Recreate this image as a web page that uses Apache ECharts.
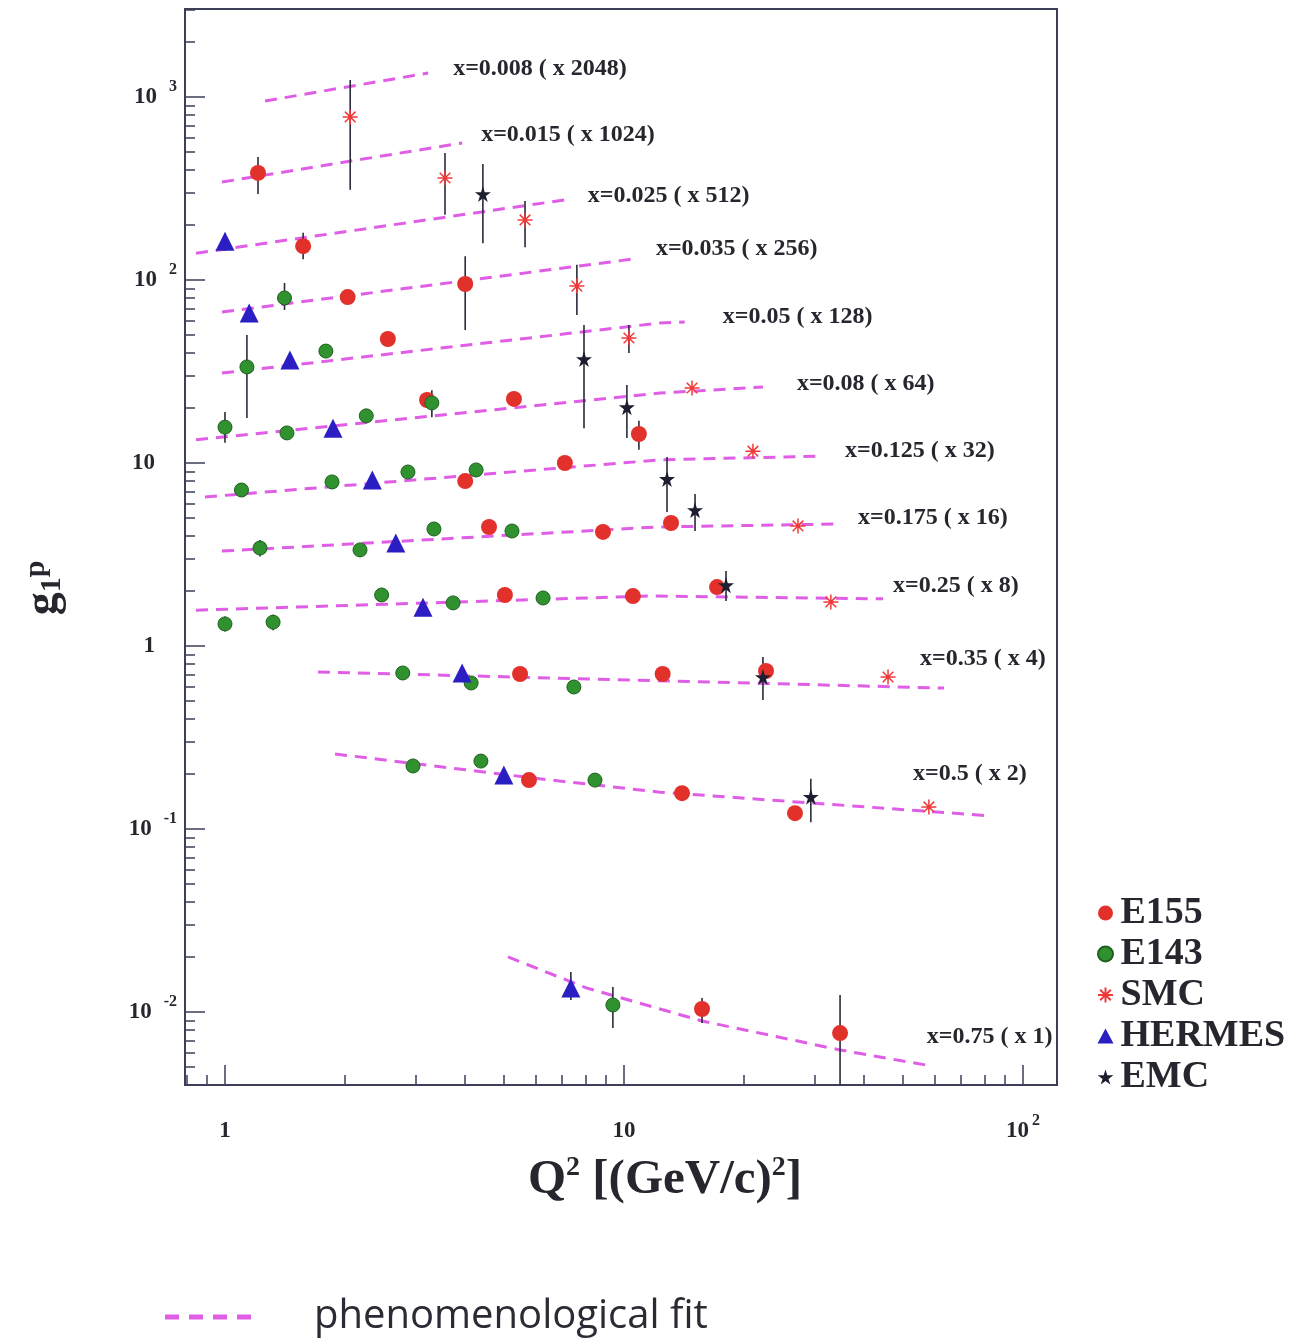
<!DOCTYPE html>
<html><head><meta charset="utf-8">
<script src="https://cdn.jsdelivr.net/npm/echarts@6/dist/echarts.min.js"></script>
<style>html,body{margin:0;padding:0;background:#fff}#c{width:1307px;height:1338px}</style>
</head><body><div id="c"></div>
<script>
// ---------------- DATA ----------------
// Fit curves (Q^2, scaled g1p), one per x bin
const fitLabels = ['x=0.008 ( x 2048)','x=0.015 ( x 1024)','x=0.025 ( x 512)','x=0.035 ( x 256)','x=0.05 ( x 128)','x=0.08 ( x 64)','x=0.125 ( x 32)','x=0.175 ( x 16)','x=0.25 ( x 8)','x=0.35 ( x 4)','x=0.5 ( x 2)','x=0.75 ( x 1)'];
const fit008 = [[1.26, 951], [3.23, 1352]];
const fit015 = [[0.983, 343], [3.93, 561]];
const fit025 = [[0.846, 140], [7.11, 274]];
const fit035 = [[0.983, 66.8], [10.47, 130]];
const fit05  = [[0.983, 31.0], [12.3, 58.2], [14.2, 58.9]];
const fit08  = [[0.846, 13.4], [12.3, 24.1], [22.3, 26.0]];
const fit125 = [[0.891, 6.52], [12.3, 10.4], [30.3, 10.9]];
const fit175 = [[0.983, 3.30], [12.1, 4.47], [34.2, 4.64]];
const fit25  = [[0.846, 1.57], [11.6, 1.875], [44.6, 1.81]];
const fit35  = [[1.71, 0.721], [63.4, 0.589]];
const fit5   = [[1.887, 0.257], [6.16, 0.188], [12.3, 0.159], [82.7, 0.118]];
const fit75  = [[5.12, 0.0200], [8.08, 0.0135], [15.69, 0.00893], [34.8, 0.0062], [57.1, 0.00513]];
const fitCurves = [fit008, fit015, fit025, fit035, fit05, fit08, fit125, fit175, fit25, fit35, fit5, fit75];

// Experimental points [Q^2, scaled g1p]
const e155 = [[1.21,385],[1.57,153],[2.03,80.7],[4.0,95.1],[2.56,47.6],[3.21,22.1],[5.30,22.4],[10.9,14.4],
  [4.0,7.97],[7.11,10.0],[4.59,4.47],[8.86,4.20],[13.12,4.70],[5.03,1.90],[10.53,1.875],[17.11,2.10],
  [5.49,0.703],[12.5,0.703],[22.7,0.730],[5.78,0.185],[13.98,0.157],[26.83,0.122],[15.69,0.01038],[34.8,0.00767]];
const e143 = [[1.41,79.8],[1.79,40.9],[1.135,33.5],[1.0,15.7],[1.43,14.6],[2.26,18.1],[3.30,21.3],
  [1.10,7.12],[1.855,7.88],[2.875,8.93],[4.26,9.16],[1.224,3.43],[2.18,3.35],[3.34,4.36],[5.24,4.25],
  [1.0,1.32],[1.32,1.35],[2.47,1.90],[3.73,1.72],[6.27,1.83],[2.79,0.712],[4.14,0.628],[7.49,0.597],
  [2.96,0.221],[4.38,0.235],[8.46,0.185],[9.38,0.01092]];
const smc = [[2.06,778],[3.56,361],[5.65,213],[7.62,92.6],[10.29,48.2],[14.81,25.7],[21.05,11.6],[27.3,4.53],[33.0,1.74],[45.9,0.677],[58.1,0.132]];
const hermes = [[1.0,163],[1.15,66.0],[1.455,36.5],[1.865,15.5],[2.34,8.07],[2.68,3.65],[3.135,1.63],[3.93,0.712],[5.00,0.197],[7.36,0.01353]];
const emc = [[4.43,295],[7.94,37.0],[10.17,20.2],[12.82,8.18],[15.07,5.53],[18.02,2.15],[22.3,0.677],[29.4,0.150]];

// Error bars [Q^2, low, high]
const errorBars = [[2.06,311,1239],[1.21,295,470],[3.56,227,494],[4.43,159,430],[5.65,151,270],[1.57,130,181],
  [4.0,53.3,135],[7.62,64.4,121],[7.94,15.5,56.8],[10.29,39.9,56.8],[1.135,17.6,50.1],[1.0,12.9,19.0],[1.41,68.6,96.4],
  [10.17,13.7,26.7],[10.9,11.8,17.0],[3.30,17.8,25.0],[12.82,5.40,10.8],[15.07,4.25,6.77],[18.02,1.76,2.57],
  [22.3,0.507,0.871],[29.4,0.109,0.188],[7.36,0.01163,0.01655],[9.38,0.00818,0.0137],[15.69,0.00871,0.01193],[34.8,0.0035,0.0124],
  [1.224,3.08,3.8],[1.0,1.2,1.45],[1.32,1.22,1.48],[1.0,145,180]];

const xTickValues = [1, 10, 100];
const yTickValues = [0.01, 0.1, 1, 10, 100, 1000];

// ---------------- STYLE ----------------
const SERIF = '"Liberation Serif", "DejaVu Serif", serif';
const FIT_COLOR = '#e05ee6';
const AXIS_COLOR = '#3b3f58';
const TEXT_COLOR = '#26262f';
const labelOffsets = [[25,-4],[19,-8],[23,-4],[24,-10],[38,-5],[34,-3],[29,-5],[21,-6],[10,-13],[-24,-29],[-77,-42],[1,-28]];
const X_MIN = 0.794, X_MAX = 121.7, Y_MIN = 0.00399, Y_MAX = 3027;

function minors(lo, hi) {
  const out = [];
  for (let d = -4; d <= 4; d++) for (let k = 2; k <= 9; k++) {
    const v = k * Math.pow(10, d);
    if (v > lo && v < hi) out.push(v);
  }
  return out;
}
const rich = {
  b: {fontFamily: SERIF, fontWeight: 'bold', fontSize: 23, color: TEXT_COLOR, lineHeight: 36},
  bp: {fontFamily: SERIF, fontWeight: 'bold', fontSize: 23, color: TEXT_COLOR, lineHeight: 36, padding: [0, 22, 0, 0]},
  s: {fontFamily: SERIF, fontWeight: 'bold', fontSize: 16, color: TEXT_COLOR, lineHeight: 14, verticalAlign: 'top', padding: [0, 0, 0, 12]},
  sx: {fontFamily: SERIF, fontWeight: 'bold', fontSize: 16, color: TEXT_COLOR, lineHeight: 14, verticalAlign: 'top', padding: [0, 0, 0, 3]}
};
function yFmt(v) {
  const e = Math.round(Math.log10(v));
  if (e === 0) return '{bp|1}';
  if (e === 1) return '{bp|10}';
  return '{b|10}{s|' + e + '}';
}
function xFmt(v) {
  const e = Math.round(Math.log10(v));
  if (e === 0) return '{b|1}';
  if (e === 1) return '{b|10}';
  return '{b|10}{sx|' + e + '}';
}

const chart = echarts.init(document.getElementById('c'), null, {renderer: 'canvas'});

const fitSeries = fitCurves.map((pts, i) => ({
  name: 'phenomenological fit', type: 'line', data: pts, symbol: 'none', silent: true, z: 1,
  xAxisIndex: 0, yAxisIndex: 0,
  lineStyle: {color: FIT_COLOR, width: 3, type: [12, 8]},
  itemStyle: {color: FIT_COLOR},
  endLabel: {show: true, formatter: fitLabels[i], distance: 0, offset: labelOffsets[i], align: 'left', verticalAlign: 'middle',
    fontFamily: SERIF, fontWeight: 'bold', fontSize: 24, color: TEXT_COLOR}
}));

const scatter = (name, data, symbol, size, itemStyle, z) => ({
  name, type: 'scatter', data, symbol, symbolSize: size, itemStyle: Object.assign({opacity: 1}, itemStyle), z, xAxisIndex: 0, yAxisIndex: 0
});

const option = {
  animation: false,
  backgroundColor: '#ffffff',
  grid: {left: 185, top: 9, right: 250, bottom: 253, show: true, borderColor: AXIS_COLOR, borderWidth: 2, backgroundColor: 'transparent'},
  xAxis: [
    {type: 'log', min: X_MIN, max: X_MAX, position: 'bottom', axisLine: {show: false}, splitLine: {show: false},
      axisTick: {inside: true, length: 20, customValues: xTickValues, lineStyle: {color: AXIS_COLOR, width: 1.5}},
      axisLabel: {customValues: xTickValues, margin: 28, formatter: xFmt, rich: rich}},
    {type: 'log', min: X_MIN, max: X_MAX, position: 'bottom', axisLine: {show: false}, splitLine: {show: false},
      axisTick: {inside: true, length: 10, customValues: minors(X_MIN, X_MAX), lineStyle: {color: AXIS_COLOR, width: 1.5}},
      axisLabel: {show: false}}
  ],
  yAxis: [
    {type: 'log', min: Y_MIN, max: Y_MAX, position: 'left', axisLine: {show: false}, splitLine: {show: false},
      axisTick: {inside: true, length: 20, customValues: yTickValues, lineStyle: {color: AXIS_COLOR, width: 1.5}},
      axisLabel: {customValues: yTickValues, margin: 8, formatter: yFmt, rich: rich}},
    {type: 'log', min: Y_MIN, max: Y_MAX, position: 'left', axisLine: {show: false}, splitLine: {show: false},
      axisTick: {inside: true, length: 10, customValues: minors(Y_MIN, Y_MAX), lineStyle: {color: AXIS_COLOR, width: 1.5}},
      axisLabel: {show: false}}
  ],
  legend: [
    {data: ['E155', 'E143', 'SMC', 'HERMES', 'EMC'], orient: 'vertical', left: 1092, top: 889, itemGap: 3,
      itemWidth: 16, itemHeight: 15,
      textStyle: {fontFamily: SERIF, fontWeight: 'bold', fontSize: 38, color: TEXT_COLOR, lineHeight: 35, padding: [0, 0, 0, 2]}},
    {data: ['phenomenological fit'], left: 160, top: 1292, itemWidth: 86, itemHeight: 5,
      icon: 'path://M0,0h14v5h-14z M24,0h14v5h-14z M48,0h14v5h-14z M72,0h14v5h-14z',
      itemStyle: {color: FIT_COLOR},
      textStyle: {fontFamily: '"Open Sans", "Noto Sans", sans-serif', fontSize: 40, color: '#2b2b35', padding: [0, 0, 0, 58]}}
  ],
  graphic: [
    {type: 'text', x: 665, y: 1180, style: {
      text: '{q|Q}{s|2}{t| [(GeV/c)}{s|2}{t|]}', align: 'center', verticalAlign: 'middle',
      rich: {
        q: {fontFamily: SERIF, fontWeight: 'bold', fontSize: 49, fill: TEXT_COLOR, lineHeight: 52},
        t: {fontFamily: SERIF, fontWeight: 'bold', fontSize: 49, fill: TEXT_COLOR, lineHeight: 52},
        s: {fontFamily: SERIF, fontWeight: 'bold', fontSize: 28, fill: TEXT_COLOR, lineHeight: 28, verticalAlign: 'top'}
      }}},
    {type: 'text', x: 44, y: 588, rotation: Math.PI / 2, style: {
      text: '{g|g}{sub|1}{sup|p}', align: 'center', verticalAlign: 'middle',
      rich: {
        g: {fontFamily: SERIF, fontWeight: 'bold', fontSize: 46, fill: TEXT_COLOR, lineHeight: 46},
        sub: {fontFamily: SERIF, fontWeight: 'bold', fontSize: 30, fill: TEXT_COLOR, lineHeight: 24, verticalAlign: 'bottom'},
        sup: {fontFamily: SERIF, fontWeight: 'bold', fontSize: 30, fill: TEXT_COLOR, lineHeight: 24, verticalAlign: 'top'}
      }}}
  ],
  series: [
    ...fitSeries,
    {type: 'custom', name: 'errors', data: errorBars, z: 2, silent: true, clip: true, xAxisIndex: 0, yAxisIndex: 0,
      encode: {x: 0, y: [1, 2]},
      renderItem: function (params, api) {
        const a = api.coord([api.value(0), api.value(1)]);
        const b = api.coord([api.value(0), api.value(2)]);
        return {type: 'line', shape: {x1: a[0], y1: a[1], x2: b[0], y2: b[1]}, style: {stroke: '#2a2b3a', lineWidth: 1.6}};
      }},
    scatter('E155', e155, 'circle', 16, {color: '#e2302b'}, 4),
    scatter('E143', e143, 'circle', 14, {color: '#2f922f', borderColor: '#1f5f1f', borderWidth: 1}, 4),
    scatter('SMC', smc, 'path://M10 0L10 20M0 10L20 10M2.9 2.9L17.1 17.1M2.9 17.1L17.1 2.9', 15,
      {color: 'rgba(0,0,0,0)', borderColor: '#f03a3a', borderWidth: 1.5}, 5),
    scatter('HERMES', hermes, 'triangle', 19, {color: '#2b1fc4'}, 4),
    scatter('EMC', emc, 'path://M50,0L61,35L98,35L68,57L79,91L50,70L21,91L32,57L2,35L39,35Z', 16, {color: '#1d1f30'}, 5)
  ]
};
chart.setOption(option);
</script></body></html>
